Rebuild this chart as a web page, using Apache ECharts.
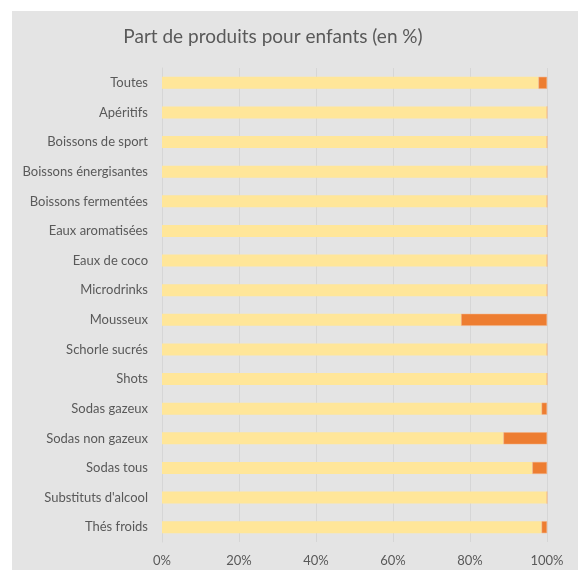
<!DOCTYPE html>
<html>
<head>
<meta charset="utf-8">
<script src="https://cdn.jsdelivr.net/npm/echarts@6/dist/echarts.min.js"></script>
<style>
  html, body { margin: 0; padding: 0; background: #ffffff; }
  #chart { width: 578px; height: 570px; }
</style>
</head>
<body>
<div id="chart"></div>
<script>
// Drink categories, top to bottom
const categories = [
  'Toutes', 'Apéritifs', 'Boissons de sport', 'Boissons énergisantes',
  'Boissons fermentées', 'Eaux aromatisées', 'Eaux de coco', 'Microdrinks',
  'Mousseux', 'Schorle sucrés', 'Shots', 'Sodas gazeux', 'Sodas non gazeux',
  'Sodas tous', "Substituts d'alcool", 'Thés froids'
];

// Share of products not aimed at children (%)
const autresProduits = [97.8, 100, 100, 100, 100, 100, 100, 100, 77.7, 100, 100, 98.6, 88.7, 96.2, 100, 98.6];
// Share of products aimed at children (%)
const produitsEnfants = [2.2, 0, 0, 0, 0, 0, 0, 0, 22.3, 0, 0, 1.4, 11.3, 3.8, 0, 1.4];

// Value axis tick labels
const tickLabels = ['0%', '20%', '40%', '60%', '80%', '100%'];

const FONT = 'Lato, "Open Sans", sans-serif';
const chart = echarts.init(document.getElementById('chart'), null, { renderer: 'canvas' });

chart.setOption({
  animation: false,
  textStyle: { fontFamily: FONT },
  graphic: [{
    type: 'rect',
    z: -10,
    shape: { x: 12, y: 11, width: 566, height: 559 },
    style: { fill: '#e4e4e4' },
    silent: true
  }],
  title: {
    text: 'Part de produits pour enfants (en %)',
    left: 268,
    textAlign: 'center',
    top: 22,
    textStyle: { fontFamily: FONT, fontSize: 19, fontWeight: 'normal', color: '#595959' }
  },
  grid: { left: 162, right: 31, top: 68, bottom: 28, containLabel: false },
  xAxis: {
    type: 'value',
    min: 0,
    max: 100,
    interval: 20,
    axisLine: { show: false },
    axisTick: { show: false },
    splitLine: { lineStyle: { color: '#d6d6d6', width: 1 } },
    axisLabel: {
      color: '#595959',
      fontSize: 13,
      fontFamily: FONT,
      margin: 12,
      formatter: v => tickLabels[Math.round(v / 20)]
    }
  },
  yAxis: {
    type: 'category',
    data: categories,
    inverse: true,
    axisLine: { show: true, lineStyle: { color: '#d6d6d6' } },
    axisTick: { show: false },
    axisLabel: { color: '#595959', fontSize: 13, fontFamily: FONT, margin: 14 }
  },
  series: [
    {
      name: 'Autres produits',
      type: 'bar',
      stack: 'total',
      barWidth: 12,
      data: autresProduits,
      itemStyle: { color: '#ffe699' }
    },
    {
      name: 'Produits pour enfants',
      type: 'bar',
      stack: 'total',
      barWidth: 12,
      data: produitsEnfants,
      itemStyle: { color: '#ed7d31', borderColor: '#f4b183', borderWidth: 0.5 }
    }
  ]
});
</script>
</body>
</html>
